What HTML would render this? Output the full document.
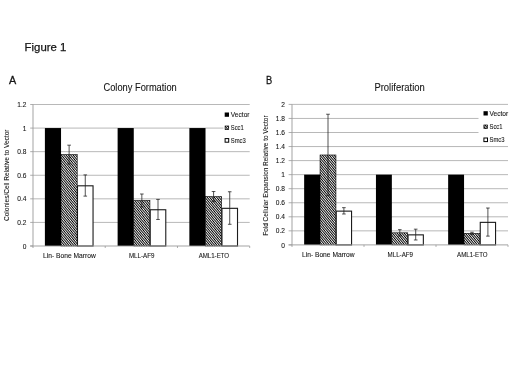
<!DOCTYPE html>
<html><head><meta charset="utf-8"><title>Figure 1</title>
<style>html,body{margin:0;padding:0;background:#fff;font-family:"Liberation Sans",sans-serif;}svg{display:block;}</style></head>
<body>
<svg width="520" height="390" viewBox="0 0 520 390" font-family="Liberation Sans, sans-serif">
<defs><filter id="soft" x="0" y="0" width="520" height="390" filterUnits="userSpaceOnUse"><feGaussianBlur stdDeviation="0.35"/></filter><pattern id="hatch" width="4" height="1.8" patternUnits="userSpaceOnUse" patternTransform="rotate(50)"><rect width="4" height="1.8" fill="#fff"/><rect width="4" height="0.95" fill="#000"/></pattern></defs>
<rect width="520" height="390" fill="#fff"/>
<g filter="url(#soft)">
<text x="24.60" y="50.80" font-size="11.6" text-anchor="start" fill="#141414" stroke="#141414" stroke-width="0.25" font-weight="normal" textLength="41.80" lengthAdjust="spacingAndGlyphs">Figure 1</text>
<text x="9.10" y="83.50" font-size="11.7" text-anchor="start" fill="#141414" stroke="#141414" stroke-width="0.3" font-weight="normal" textLength="7.20" lengthAdjust="spacingAndGlyphs">A</text>
<text x="265.90" y="84.30" font-size="11.7" text-anchor="start" fill="#141414" stroke="#141414" stroke-width="0.3" font-weight="normal" textLength="6.20" lengthAdjust="spacingAndGlyphs">B</text>
<line x1="33.00" x2="249.70" y1="222.42" y2="222.42" stroke="#a6a6a6" stroke-width="0.8"/>
<line x1="33.00" x2="249.70" y1="198.83" y2="198.83" stroke="#a6a6a6" stroke-width="0.8"/>
<line x1="33.00" x2="249.70" y1="175.25" y2="175.25" stroke="#a6a6a6" stroke-width="0.8"/>
<line x1="33.00" x2="249.70" y1="151.67" y2="151.67" stroke="#a6a6a6" stroke-width="0.8"/>
<line x1="33.00" x2="249.70" y1="128.08" y2="128.08" stroke="#a6a6a6" stroke-width="0.8"/>
<line x1="33.00" x2="249.70" y1="104.50" y2="104.50" stroke="#a6a6a6" stroke-width="0.8"/>
<rect x="223.40" y="108.00" width="38.30" height="38.00" fill="#fff"/>
<rect x="44.89" y="128.08" width="16.15" height="117.92" fill="#000"/>
<rect x="61.04" y="154.61" width="16.15" height="91.39" fill="url(#hatch)" stroke="#000" stroke-width="0.6"/>
<path d="M69.12 145.18V164.05M67.32 145.18H70.92M67.32 164.05H70.92" stroke="#1a1a1a" stroke-width="0.75" fill="none"/>
<rect x="77.49" y="185.81" width="15.55" height="60.19" fill="#fff" stroke="#1a1a1a" stroke-width="1.1"/>
<path d="M85.27 174.90V196.12M83.47 174.90H87.07M83.47 196.12H87.07" stroke="#1a1a1a" stroke-width="0.75" fill="none"/>
<rect x="117.62" y="128.08" width="16.15" height="117.92" fill="#000"/>
<rect x="133.78" y="200.48" width="16.15" height="45.52" fill="url(#hatch)" stroke="#000" stroke-width="0.6"/>
<path d="M141.85 194.00V206.97M140.05 194.00H143.65M140.05 206.97H143.65" stroke="#1a1a1a" stroke-width="0.75" fill="none"/>
<rect x="150.23" y="209.75" width="15.55" height="36.25" fill="#fff" stroke="#1a1a1a" stroke-width="1.1"/>
<path d="M158.00 199.42V219.47M156.20 199.42H159.80M156.20 219.47H159.80" stroke="#1a1a1a" stroke-width="0.75" fill="none"/>
<rect x="189.36" y="128.08" width="16.15" height="117.92" fill="#000"/>
<rect x="205.51" y="196.59" width="16.15" height="49.41" fill="url(#hatch)" stroke="#000" stroke-width="0.6"/>
<path d="M213.58 191.52V201.66M211.78 191.52H215.38M211.78 201.66H215.38" stroke="#1a1a1a" stroke-width="0.75" fill="none"/>
<rect x="221.96" y="208.33" width="15.55" height="37.67" fill="#fff" stroke="#1a1a1a" stroke-width="1.1"/>
<path d="M229.73 191.76V224.30M227.93 191.76H231.53M227.93 224.30H231.53" stroke="#1a1a1a" stroke-width="0.75" fill="none"/>
<line x1="33.00" x2="33.00" y1="104.50" y2="248.00" stroke="#999999" stroke-width="0.9"/>
<line x1="30.20" x2="249.70" y1="246.00" y2="246.00" stroke="#999999" stroke-width="0.9"/>
<line x1="30.20" x2="33.00" y1="246.00" y2="246.00" stroke="#999999" stroke-width="0.8"/>
<text x="26.40" y="248.60" font-size="6.6" text-anchor="end" fill="#141414" stroke="#141414" stroke-width="0.08" font-weight="normal">0</text>
<line x1="30.20" x2="33.00" y1="222.42" y2="222.42" stroke="#999999" stroke-width="0.8"/>
<text x="26.40" y="225.02" font-size="6.6" text-anchor="end" fill="#141414" stroke="#141414" stroke-width="0.08" font-weight="normal">0.2</text>
<line x1="30.20" x2="33.00" y1="198.83" y2="198.83" stroke="#999999" stroke-width="0.8"/>
<text x="26.40" y="201.43" font-size="6.6" text-anchor="end" fill="#141414" stroke="#141414" stroke-width="0.08" font-weight="normal">0.4</text>
<line x1="30.20" x2="33.00" y1="175.25" y2="175.25" stroke="#999999" stroke-width="0.8"/>
<text x="26.40" y="177.85" font-size="6.6" text-anchor="end" fill="#141414" stroke="#141414" stroke-width="0.08" font-weight="normal">0.6</text>
<line x1="30.20" x2="33.00" y1="151.67" y2="151.67" stroke="#999999" stroke-width="0.8"/>
<text x="26.40" y="154.27" font-size="6.6" text-anchor="end" fill="#141414" stroke="#141414" stroke-width="0.08" font-weight="normal">0.8</text>
<line x1="30.20" x2="33.00" y1="128.08" y2="128.08" stroke="#999999" stroke-width="0.8"/>
<text x="26.40" y="130.68" font-size="6.6" text-anchor="end" fill="#141414" stroke="#141414" stroke-width="0.08" font-weight="normal">1</text>
<line x1="30.20" x2="33.00" y1="104.50" y2="104.50" stroke="#999999" stroke-width="0.8"/>
<text x="26.40" y="107.10" font-size="6.6" text-anchor="end" fill="#141414" stroke="#141414" stroke-width="0.08" font-weight="normal">1.2</text>
<line x1="105.23" x2="105.23" y1="246.00" y2="248.00" stroke="#999999" stroke-width="0.8"/>
<line x1="177.47" x2="177.47" y1="246.00" y2="248.00" stroke="#999999" stroke-width="0.8"/>
<line x1="249.70" x2="249.70" y1="246.00" y2="248.00" stroke="#999999" stroke-width="0.8"/>
<text x="43.12" y="257.70" font-size="6.4" text-anchor="start" fill="#141414" stroke="#141414" stroke-width="0.08" font-weight="normal" textLength="52.60" lengthAdjust="spacingAndGlyphs">Lin- Bone Marrow</text>
<text x="128.95" y="257.70" font-size="6.4" text-anchor="start" fill="#141414" stroke="#141414" stroke-width="0.08" font-weight="normal" textLength="25.40" lengthAdjust="spacingAndGlyphs">MLL-AF9</text>
<text x="198.63" y="257.70" font-size="6.4" text-anchor="start" fill="#141414" stroke="#141414" stroke-width="0.08" font-weight="normal" textLength="30.50" lengthAdjust="spacingAndGlyphs">AML1-ETO</text>
<text x="103.50" y="90.80" font-size="10.0" text-anchor="start" fill="#141414" stroke="#141414" stroke-width="0.08" font-weight="normal" textLength="73.25" lengthAdjust="spacingAndGlyphs">Colony Formation</text>
<text x="9.35" y="221.00" font-size="7.2" text-anchor="start" fill="#141414" stroke="#141414" stroke-width="0.08" font-weight="normal" textLength="91.50" lengthAdjust="spacingAndGlyphs" transform="rotate(-90 9.35 221.00)">Colonies/Cell Relative to Vector</text>
<rect x="224.70" y="112.50" width="4.3" height="4.3" fill="#000"/>
<text x="230.80" y="116.80" font-size="6.4" text-anchor="start" fill="#141414" stroke="#141414" stroke-width="0.08" font-weight="normal" textLength="18.70" lengthAdjust="spacingAndGlyphs">Vector</text>
<rect x="225.10" y="126.00" width="3.6" height="3.6" fill="url(#hatch)" stroke="#000" stroke-width="0.7"/>
<text x="230.80" y="129.90" font-size="6.4" text-anchor="start" fill="#141414" stroke="#141414" stroke-width="0.08" font-weight="normal" textLength="13.00" lengthAdjust="spacingAndGlyphs">Scc1</text>
<rect x="225.10" y="138.60" width="3.6" height="3.6" fill="#fff" stroke="#000" stroke-width="1.0"/>
<text x="230.80" y="142.50" font-size="6.4" text-anchor="start" fill="#141414" stroke="#141414" stroke-width="0.08" font-weight="normal" textLength="15.00" lengthAdjust="spacingAndGlyphs">Smc3</text>
<line x1="292.00" x2="508.00" y1="230.85" y2="230.85" stroke="#a6a6a6" stroke-width="0.8"/>
<line x1="292.00" x2="508.00" y1="216.80" y2="216.80" stroke="#a6a6a6" stroke-width="0.8"/>
<line x1="292.00" x2="508.00" y1="202.75" y2="202.75" stroke="#a6a6a6" stroke-width="0.8"/>
<line x1="292.00" x2="508.00" y1="188.70" y2="188.70" stroke="#a6a6a6" stroke-width="0.8"/>
<line x1="292.00" x2="508.00" y1="174.65" y2="174.65" stroke="#a6a6a6" stroke-width="0.8"/>
<line x1="292.00" x2="508.00" y1="160.60" y2="160.60" stroke="#a6a6a6" stroke-width="0.8"/>
<line x1="292.00" x2="508.00" y1="146.55" y2="146.55" stroke="#a6a6a6" stroke-width="0.8"/>
<line x1="292.00" x2="508.00" y1="132.50" y2="132.50" stroke="#a6a6a6" stroke-width="0.8"/>
<line x1="292.00" x2="508.00" y1="118.45" y2="118.45" stroke="#a6a6a6" stroke-width="0.8"/>
<line x1="292.00" x2="508.00" y1="104.40" y2="104.40" stroke="#a6a6a6" stroke-width="0.8"/>
<rect x="478.50" y="107.00" width="41.50" height="38.50" fill="#fff"/>
<rect x="304.15" y="174.65" width="15.90" height="70.25" fill="#000"/>
<rect x="320.05" y="154.98" width="15.90" height="89.92" fill="url(#hatch)" stroke="#000" stroke-width="0.6"/>
<path d="M328.00 114.24V195.72M326.20 114.24H329.80M326.20 195.72H329.80" stroke="#1a1a1a" stroke-width="0.75" fill="none"/>
<rect x="336.25" y="211.13" width="15.30" height="33.77" fill="#fff" stroke="#1a1a1a" stroke-width="1.1"/>
<path d="M343.90 207.67V213.99M342.10 207.67H345.70M342.10 213.99H345.70" stroke="#1a1a1a" stroke-width="0.75" fill="none"/>
<rect x="375.95" y="174.65" width="15.90" height="70.25" fill="#000"/>
<rect x="391.85" y="232.82" width="15.90" height="12.08" fill="url(#hatch)" stroke="#000" stroke-width="0.6"/>
<path d="M399.80 229.66V235.98M398.00 229.66H401.60M398.00 235.98H401.60" stroke="#1a1a1a" stroke-width="0.75" fill="none"/>
<rect x="408.05" y="234.87" width="15.30" height="10.03" fill="#fff" stroke="#1a1a1a" stroke-width="1.1"/>
<path d="M415.70 229.16V239.98M413.90 229.16H417.50M413.90 239.98H417.50" stroke="#1a1a1a" stroke-width="0.75" fill="none"/>
<rect x="448.15" y="174.65" width="15.90" height="70.25" fill="#000"/>
<rect x="464.05" y="233.31" width="15.90" height="11.59" fill="url(#hatch)" stroke="#000" stroke-width="0.6"/>
<path d="M472.00 232.25V234.36M470.20 232.25H473.80M470.20 234.36H473.80" stroke="#1a1a1a" stroke-width="0.75" fill="none"/>
<rect x="480.25" y="222.37" width="15.30" height="22.53" fill="#fff" stroke="#1a1a1a" stroke-width="1.1"/>
<path d="M487.90 208.02V236.12M486.10 208.02H489.70M486.10 236.12H489.70" stroke="#1a1a1a" stroke-width="0.75" fill="none"/>
<line x1="292.00" x2="292.00" y1="104.40" y2="246.90" stroke="#999999" stroke-width="0.9"/>
<line x1="288.60" x2="508.00" y1="244.90" y2="244.90" stroke="#999999" stroke-width="0.9"/>
<line x1="288.60" x2="292.00" y1="244.90" y2="244.90" stroke="#999999" stroke-width="0.8"/>
<text x="285.00" y="247.50" font-size="6.6" text-anchor="end" fill="#141414" stroke="#141414" stroke-width="0.08" font-weight="normal">0</text>
<line x1="288.60" x2="292.00" y1="230.85" y2="230.85" stroke="#999999" stroke-width="0.8"/>
<text x="285.00" y="233.45" font-size="6.6" text-anchor="end" fill="#141414" stroke="#141414" stroke-width="0.08" font-weight="normal">0.2</text>
<line x1="288.60" x2="292.00" y1="216.80" y2="216.80" stroke="#999999" stroke-width="0.8"/>
<text x="285.00" y="219.40" font-size="6.6" text-anchor="end" fill="#141414" stroke="#141414" stroke-width="0.08" font-weight="normal">0.4</text>
<line x1="288.60" x2="292.00" y1="202.75" y2="202.75" stroke="#999999" stroke-width="0.8"/>
<text x="285.00" y="205.35" font-size="6.6" text-anchor="end" fill="#141414" stroke="#141414" stroke-width="0.08" font-weight="normal">0.6</text>
<line x1="288.60" x2="292.00" y1="188.70" y2="188.70" stroke="#999999" stroke-width="0.8"/>
<text x="285.00" y="191.30" font-size="6.6" text-anchor="end" fill="#141414" stroke="#141414" stroke-width="0.08" font-weight="normal">0.8</text>
<line x1="288.60" x2="292.00" y1="174.65" y2="174.65" stroke="#999999" stroke-width="0.8"/>
<text x="285.00" y="177.25" font-size="6.6" text-anchor="end" fill="#141414" stroke="#141414" stroke-width="0.08" font-weight="normal">1</text>
<line x1="288.60" x2="292.00" y1="160.60" y2="160.60" stroke="#999999" stroke-width="0.8"/>
<text x="285.00" y="163.20" font-size="6.6" text-anchor="end" fill="#141414" stroke="#141414" stroke-width="0.08" font-weight="normal">1.2</text>
<line x1="288.60" x2="292.00" y1="146.55" y2="146.55" stroke="#999999" stroke-width="0.8"/>
<text x="285.00" y="149.15" font-size="6.6" text-anchor="end" fill="#141414" stroke="#141414" stroke-width="0.08" font-weight="normal">1.4</text>
<line x1="288.60" x2="292.00" y1="132.50" y2="132.50" stroke="#999999" stroke-width="0.8"/>
<text x="285.00" y="135.10" font-size="6.6" text-anchor="end" fill="#141414" stroke="#141414" stroke-width="0.08" font-weight="normal">1.6</text>
<line x1="288.60" x2="292.00" y1="118.45" y2="118.45" stroke="#999999" stroke-width="0.8"/>
<text x="285.00" y="121.05" font-size="6.6" text-anchor="end" fill="#141414" stroke="#141414" stroke-width="0.08" font-weight="normal">1.8</text>
<line x1="288.60" x2="292.00" y1="104.40" y2="104.40" stroke="#999999" stroke-width="0.8"/>
<text x="285.00" y="107.00" font-size="6.6" text-anchor="end" fill="#141414" stroke="#141414" stroke-width="0.08" font-weight="normal">2</text>
<line x1="364.00" x2="364.00" y1="244.90" y2="246.90" stroke="#999999" stroke-width="0.8"/>
<line x1="436.00" x2="436.00" y1="244.90" y2="246.90" stroke="#999999" stroke-width="0.8"/>
<line x1="508.00" x2="508.00" y1="244.90" y2="246.90" stroke="#999999" stroke-width="0.8"/>
<text x="302.00" y="256.60" font-size="6.4" text-anchor="start" fill="#141414" stroke="#141414" stroke-width="0.08" font-weight="normal" textLength="52.60" lengthAdjust="spacingAndGlyphs">Lin- Bone Marrow</text>
<text x="387.60" y="256.60" font-size="6.4" text-anchor="start" fill="#141414" stroke="#141414" stroke-width="0.08" font-weight="normal" textLength="25.40" lengthAdjust="spacingAndGlyphs">MLL-AF9</text>
<text x="457.05" y="256.60" font-size="6.4" text-anchor="start" fill="#141414" stroke="#141414" stroke-width="0.08" font-weight="normal" textLength="30.50" lengthAdjust="spacingAndGlyphs">AML1-ETO</text>
<text x="374.40" y="91.00" font-size="10.0" text-anchor="start" fill="#141414" stroke="#141414" stroke-width="0.08" font-weight="normal" textLength="50.40" lengthAdjust="spacingAndGlyphs">Proliferation</text>
<text x="267.90" y="235.70" font-size="7.2" text-anchor="start" fill="#141414" stroke="#141414" stroke-width="0.08" font-weight="normal" textLength="120.30" lengthAdjust="spacingAndGlyphs" transform="rotate(-90 267.90 235.70)">Fold Cellular Expansion Relative to Vector</text>
<rect x="483.50" y="111.20" width="4.3" height="4.3" fill="#000"/>
<text x="489.50" y="115.50" font-size="6.4" text-anchor="start" fill="#141414" stroke="#141414" stroke-width="0.08" font-weight="normal" textLength="18.70" lengthAdjust="spacingAndGlyphs">Vector</text>
<rect x="483.90" y="125.00" width="3.6" height="3.6" fill="url(#hatch)" stroke="#000" stroke-width="0.7"/>
<text x="489.50" y="128.90" font-size="6.4" text-anchor="start" fill="#141414" stroke="#141414" stroke-width="0.08" font-weight="normal" textLength="13.00" lengthAdjust="spacingAndGlyphs">Scc1</text>
<rect x="483.90" y="138.00" width="3.6" height="3.6" fill="#fff" stroke="#000" stroke-width="1.0"/>
<text x="489.50" y="141.90" font-size="6.4" text-anchor="start" fill="#141414" stroke="#141414" stroke-width="0.08" font-weight="normal" textLength="15.00" lengthAdjust="spacingAndGlyphs">Smc3</text>
</g>
</svg>
</body></html>
